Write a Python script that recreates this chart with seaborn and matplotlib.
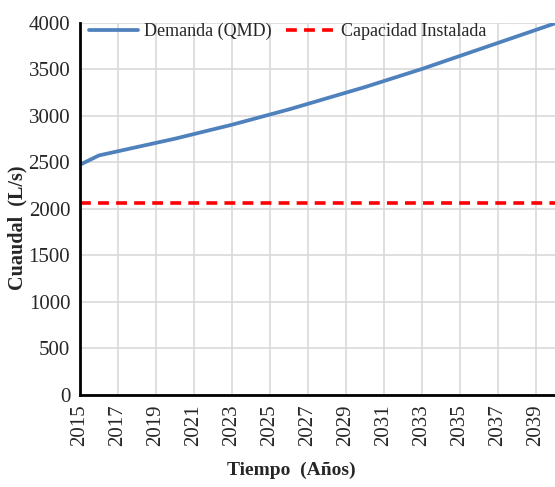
import matplotlib
matplotlib.use("Agg")
import matplotlib.pyplot as plt
import seaborn as sns
import pandas as pd

years = list(range(2015, 2041))
demanda = [2475, 2575, 2620, 2665, 2710, 2755, 2805, 2855, 2905, 2960,
           3015, 3070, 3130, 3190, 3250, 3310, 3375, 3440, 3505, 3575,
           3645, 3715, 3785, 3855, 3925, 3995]
capacidad = [2060] * len(years)
xticks = list(range(2015, 2040, 2))

df = pd.DataFrame({"Año": years, "Demanda (QMD)": demanda, "Capacidad Instalada": capacidad})

sns.set_style("white")
plt.rcParams["font.family"] = ["Liberation Serif", "DejaVu Serif"]

fig = plt.figure(figsize=(5.55, 4.87), dpi=100)
ax = fig.add_axes([0.144, 0.189, 0.856, 0.764])

sns.lineplot(data=df, x="Año", y="Demanda (QMD)", ax=ax, color="#4F81BD",
             linewidth=2.7, label="Demanda (QMD)")
sns.lineplot(data=df, x="Año", y="Capacidad Instalada", ax=ax, color="#FF0000",
             linewidth=2.6, linestyle=(0, (3.0, 2.0)), label="Capacidad Instalada")

ax.set_xlim(2015, 2040)
ax.set_ylim(0, 4000)
ax.set_xticks(xticks)
ax.set_xticklabels([str(x) for x in xticks], rotation=90, fontsize=15)
ax.set_yticks(range(0, 4001, 500))
ax.tick_params(axis="y", labelsize=15)
ax.tick_params(direction="out", length=5, width=2, color="black", pad=2)
ax.grid(True, color="#D9D9D9", linewidth=1.2)
ax.set_axisbelow(True)

for s in ["top", "right"]:
    ax.spines[s].set_visible(False)
for s in ["left", "bottom"]:
    ax.spines[s].set_color("black")
    ax.spines[s].set_linewidth(2)

ax.set_xlabel("Tiempo  (Años)", fontsize=14, fontweight="bold")
ax.set_ylabel("Cuaudal  (L/s)", fontsize=14.5, fontweight="bold")
ax.xaxis.set_label_coords(0.446, -0.18)
ax.yaxis.set_label_coords(-0.11, 0.45)

ax.legend(loc="upper left", bbox_to_anchor=(0.0, 1.025), ncol=2, frameon=False,
          fontsize=13, handlelength=2.7, columnspacing=0.8, handletextpad=0.35,
          borderaxespad=0.1)

fig.savefig("out.png", dpi=100)
